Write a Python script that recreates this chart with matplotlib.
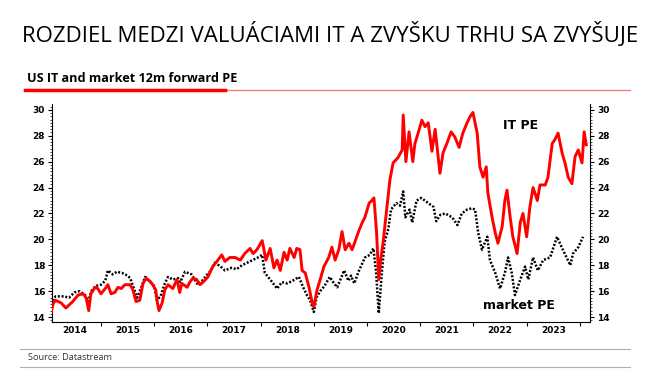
import matplotlib
matplotlib.use("Agg")
import matplotlib.pyplot as plt
from matplotlib.lines import Line2D
from matplotlib.ticker import MultipleLocator, FixedLocator, NullFormatter

# IT sector 12m forward PE (red)
it_dates = [2014.06, 2014.10, 2014.14, 2014.25, 2014.34, 2014.47, 2014.57, 2014.66, 2014.72, 2014.77,
            2014.81, 2014.89, 2014.94, 2015.00, 2015.08, 2015.13, 2015.19, 2015.26, 2015.32, 2015.38,
            2015.45, 2015.55, 2015.60, 2015.66, 2015.73, 2015.79, 2015.85, 2015.94, 2016.03, 2016.06,
            2016.09, 2016.15, 2016.20, 2016.26, 2016.35, 2016.43, 2016.48, 2016.52, 2016.62, 2016.67,
            2016.73, 2016.80, 2016.86, 2016.92, 2017.01, 2017.10, 2017.18, 2017.27, 2017.33, 2017.42,
            2017.52, 2017.62, 2017.70, 2017.80, 2017.86, 2017.93, 2018.03, 2018.10, 2018.18, 2018.25,
            2018.31, 2018.37, 2018.44, 2018.50, 2018.55, 2018.63, 2018.68, 2018.74, 2018.78, 2018.84,
            2018.91, 2018.97, 2019.00, 2019.06, 2019.12, 2019.19, 2019.28, 2019.34, 2019.40, 2019.47,
            2019.53, 2019.59, 2019.66, 2019.72, 2019.78, 2019.85, 2019.91, 2019.96, 2020.04, 2020.09,
            2020.13, 2020.18, 2020.22, 2020.26, 2020.30, 2020.37, 2020.43, 2020.49, 2020.58, 2020.66,
            2020.68, 2020.73, 2020.79, 2020.86, 2020.90, 2020.96, 2021.03, 2021.09, 2021.15, 2021.22,
            2021.28, 2021.37, 2021.43, 2021.50, 2021.58, 2021.65, 2021.73, 2021.80, 2021.88, 2021.94,
            2021.99, 2022.07, 2022.12, 2022.18, 2022.24, 2022.27, 2022.35, 2022.41, 2022.46, 2022.54,
            2022.59, 2022.63, 2022.69, 2022.74, 2022.82, 2022.88, 2022.93, 2023.00, 2023.06, 2023.12,
            2023.20, 2023.25, 2023.35, 2023.40, 2023.48, 2023.53, 2023.59, 2023.67, 2023.72, 2023.78,
            2023.85, 2023.91, 2023.97, 2024.04, 2024.08, 2024.12]
it_pe = [14.3, 15.0, 15.3, 15.1, 14.7, 15.2, 15.7, 15.8, 15.5, 14.5,
         15.8, 16.3, 16.2, 15.8, 16.2, 16.5, 15.8, 15.9, 16.3, 16.2,
         16.5, 16.5, 16.1, 15.2, 15.3, 16.6, 17.0, 16.7, 16.1, 15.1,
         14.5, 15.1, 16.1, 16.5, 16.2, 16.9, 15.9, 16.6, 16.3, 16.7,
         17.0, 16.9, 16.5, 16.7, 17.1, 17.9, 18.3, 18.8, 18.3, 18.6,
         18.6, 18.4, 18.9, 19.3, 18.9, 19.2, 19.9, 18.4, 19.3, 17.8,
         18.4, 17.6, 19.0, 18.4, 19.3, 18.6, 19.3, 19.2, 17.6, 17.4,
         16.3, 15.1, 14.8, 16.1, 16.9, 17.9, 18.6, 19.4, 18.4, 19.2,
         20.6, 19.2, 19.7, 19.2, 19.9, 20.7, 21.3, 21.7, 22.8, 23.0,
         23.2, 20.5, 16.9, 18.5, 19.7, 22.3, 24.6, 25.9, 26.3, 26.9,
         29.6, 26.0, 28.3, 26.0, 27.4, 28.2, 29.2, 28.7, 29.0, 26.8,
         28.5, 25.1, 26.7, 27.4, 28.3, 27.9, 27.1, 28.2, 29.0, 29.5,
         29.8, 28.2, 25.6, 24.8, 25.6, 23.6, 21.7, 20.5, 19.7, 21.0,
         23.0, 23.8, 21.7, 20.2, 18.9, 21.3, 22.0, 20.2, 22.5, 24.0,
         23.0, 24.2, 24.2, 24.8, 27.4, 27.7, 28.2, 26.6, 25.9, 24.8,
         24.3, 26.4, 26.9, 25.9, 28.3, 27.3]

# whole market 12m forward PE (black dotted)
mkt_dates = [2014.08, 2014.15, 2014.30, 2014.40, 2014.50, 2014.60, 2014.70, 2014.76, 2014.82, 2014.90,
             2015.00, 2015.08, 2015.13, 2015.22, 2015.30, 2015.40, 2015.50, 2015.55, 2015.62, 2015.68,
             2015.75, 2015.83, 2015.90, 2016.00, 2016.05, 2016.12, 2016.20, 2016.26, 2016.35, 2016.45,
             2016.49, 2016.58, 2016.70, 2016.82, 2016.90, 2017.00, 2017.07, 2017.14, 2017.25, 2017.33,
             2017.45, 2017.55, 2017.65, 2017.75, 2017.85, 2017.95, 2018.03, 2018.08, 2018.18, 2018.31,
             2018.40, 2018.50, 2018.60, 2018.72, 2018.80, 2018.87, 2018.93, 2019.00, 2019.05, 2019.12,
             2019.20, 2019.30, 2019.38, 2019.44, 2019.50, 2019.57, 2019.65, 2019.70, 2019.76, 2019.85,
             2019.96, 2020.05, 2020.12, 2020.17, 2020.22, 2020.28, 2020.33, 2020.40, 2020.45, 2020.55,
             2020.62, 2020.68, 2020.72, 2020.80, 2020.85, 2020.93, 2021.02, 2021.15, 2021.25, 2021.30,
             2021.38, 2021.47, 2021.60, 2021.70, 2021.78, 2021.88, 2021.97, 2022.03, 2022.09, 2022.16,
             2022.26, 2022.31, 2022.41, 2022.50, 2022.59, 2022.65, 2022.72, 2022.78, 2022.88, 2022.97,
             2023.03, 2023.12, 2023.21, 2023.31, 2023.44, 2023.57, 2023.68, 2023.82, 2023.87, 2023.97,
             2024.06]
mkt_pe = [15.3, 15.6, 15.6, 15.5, 15.9, 16.0, 15.7, 15.2, 16.0, 16.4,
          16.5, 16.8, 17.6, 17.3, 17.5, 17.4, 17.2, 17.0, 16.2, 15.5,
          16.2, 17.1, 16.8, 16.4, 15.3, 15.6, 16.6, 17.1, 16.9, 17.0,
          16.7, 17.5, 17.3, 16.5, 16.8, 17.3, 17.6, 18.2, 17.9, 17.6,
          17.8, 17.7, 18.0, 18.2, 18.4, 18.6, 18.8, 17.4, 16.9, 16.2,
          16.7, 16.6, 16.8, 17.1, 16.3, 15.7, 15.3, 14.4, 15.5, 16.0,
          16.4, 17.1, 16.6, 16.3, 16.9, 17.6, 16.8, 17.2, 16.6, 17.6,
          18.6, 18.8, 19.3, 17.5, 14.3, 17.5, 19.8, 20.8, 22.3, 22.8,
          22.6, 23.7, 21.7, 22.3, 21.3, 23.0, 23.2, 22.8, 22.5, 21.4,
          21.9, 22.0, 21.7, 21.1, 22.0, 22.3, 22.4, 22.3, 20.5, 19.2,
          20.2, 18.4, 17.4, 16.2, 17.4, 18.6, 17.4, 15.7, 16.9, 17.9,
          16.9, 18.6, 17.6, 18.4, 18.6, 20.2, 19.2, 18.0, 18.9, 19.4,
          20.2]

years = list(range(2014, 2024))
y_ticks = [14, 16, 18, 20, 22, 24, 26, 28, 30]

W, H = 661, 378
fig = plt.figure(figsize=(W / 100, H / 100), dpi=100)


def fx(px):
    return px / W


def fy(py):
    return 1 - py / H


# headline and subtitle
fig.text(0.5, fy(35), "ROZDIEL MEDZI VALUÁCIAMI IT A ZVYŠKU TRHU SA ZVYŠUJE",
         ha="center", va="center", fontsize=16, family="Open Sans")
fig.text(fx(27), fy(78), "US IT and market 12m forward PE", ha="left", va="center",
         fontsize=9.1, fontweight="bold", family="Open Sans")
fig.add_artist(Line2D([fx(225), fx(630)], [fy(90), fy(90)], color="#f08080", lw=1))
fig.add_artist(Line2D([fx(25), fx(225)], [fy(90), fy(90)], color="red", lw=2.5))

# footer
fig.add_artist(Line2D([fx(20), fx(630)], [fy(349), fy(349)], color="#b0b0b0", lw=0.8))
fig.add_artist(Line2D([fx(20), fx(630)], [fy(367), fy(367)], color="#b0b0b0", lw=0.8))
fig.text(fx(28), fy(358), "Source: Datastream", ha="left", va="center",
         fontsize=6.6, color="#333333", family="Open Sans")

ax = fig.add_axes([fx(52), fy(322), fx(590) - fx(52), fy(104) - fy(322)])
ax.plot(it_dates, it_pe, color="red", lw=2.1, zorder=3)
ax.plot(mkt_dates, mkt_pe, color="black", lw=1.8, ls=(0, (0.8, 0.7)), zorder=2)

ax.set_xlim(2014.08, 2024.19)
ax.set_ylim(13.62, 30.45)

ax.spines["top"].set_visible(False)
for s in ["left", "right", "bottom"]:
    ax.spines[s].set_linewidth(0.8)

# year ticks at year starts, labels in the middle of each year
ax.xaxis.set_major_locator(FixedLocator([y + 1 for y in years]))
ax.xaxis.set_major_formatter(NullFormatter())
ax.xaxis.set_minor_locator(FixedLocator([y + 0.5 for y in years]))
ax.set_xticklabels([str(y) for y in years], minor=True)
ax.tick_params(axis="x", which="major", length=3, width=0.8)
ax.tick_params(axis="x", which="minor", length=0, pad=3, labelsize=6.5)
for lab in ax.get_xticklabels(minor=True):
    lab.set_fontweight("bold")

ax.set_yticks(y_ticks)
ax.yaxis.set_minor_locator(MultipleLocator(0.25))
ax.tick_params(axis="y", which="major", length=3, width=0.8, labelsize=6.5,
               left=True, right=True, labelleft=True, labelright=True, pad=2)
ax.tick_params(axis="y", which="minor", length=1.5, width=0.5, left=True, right=True)
for lab in ax.get_yticklabels():
    lab.set_fontweight("bold")

ax.text(2022.88, 28.8, "IT PE", fontsize=9, fontweight="bold", ha="center", va="center")
ax.text(2022.86, 14.9, "market PE", fontsize=9, fontweight="bold", ha="center", va="center")

fig.savefig("out.png", dpi=100)
